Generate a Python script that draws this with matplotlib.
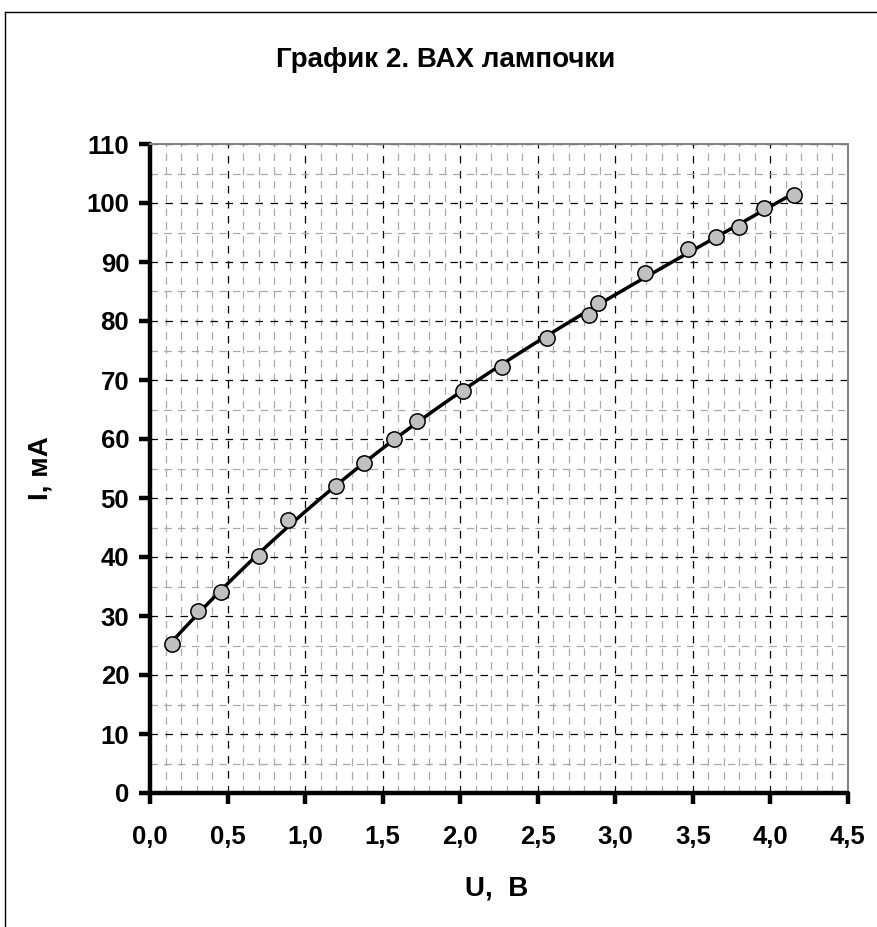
import numpy as np
import matplotlib
matplotlib.use("Agg")
import matplotlib.pyplot as plt
from matplotlib.lines import Line2D
from matplotlib.ticker import MultipleLocator, FuncFormatter

U = [0.14, 0.31, 0.46, 0.70, 0.89, 1.20, 1.38, 1.57, 1.72, 2.02,
     2.27, 2.56, 2.83, 2.89, 3.19, 3.47, 3.65, 3.80, 3.96, 4.15]
I = [25.3, 30.9, 34.0, 40.1, 46.2, 52.0, 55.9, 60.0, 63.0, 68.1,
     72.2, 77.1, 81.0, 83.1, 88.2, 92.2, 94.2, 96.0, 99.1, 101.3]

title = "График 2. ВАХ лампочки"
xlabel = "U,  В"
ylabel = "I, мА"

plt.rcParams['font.family'] = ['Liberation Sans', 'DejaVu Sans']
plt.rcParams['font.weight'] = 'bold'

fig = plt.figure(figsize=(8.77, 9.27), dpi=100)
ax = fig.add_axes([150/877, 1-793/927, (848-150)/877, (793-144)/927])

ax.set_xlim(0, 4.5)
ax.set_ylim(0, 110)
ax.xaxis.set_major_locator(MultipleLocator(0.5))
ax.xaxis.set_minor_locator(MultipleLocator(0.1))
ax.yaxis.set_major_locator(MultipleLocator(10))
ax.yaxis.set_minor_locator(MultipleLocator(5))
ax.xaxis.set_major_formatter(FuncFormatter(lambda v, p: f"{v:.1f}".replace('.', ',')))
ax.yaxis.set_major_formatter(FuncFormatter(lambda v, p: f"{v:.0f}"))

ax.grid(which='major', color='black', linestyle=(0, (6, 6)), linewidth=0.9)
ax.grid(which='minor', color='#a8a8a8', linestyle=(0, (6, 5)), linewidth=0.9)
ax.set_axisbelow(True)

# trendline through data
coef = np.polyfit(U, I, 3)
xs = np.linspace(min(U), max(U), 200)
ax.plot(xs, np.polyval(coef, xs), color='black', linewidth=2.5, zorder=3, solid_capstyle='round')
ax.plot(U, I, linestyle='none', marker='o', markersize=11, markerfacecolor='#c0c0c0',
        markeredgecolor='black', markeredgewidth=1.1, zorder=4)

for s in ['left', 'bottom']:
    ax.spines[s].set_linewidth(3.2)
    ax.spines[s].set_color('black')
    ax.spines[s].set_capstyle('round')
for s in ['top', 'right']:
    ax.spines[s].set_linewidth(1.4)
    ax.spines[s].set_color('#808080')

ax.tick_params(which='major', direction='out', length=8, width=3.2, color='black',
               labelsize=18.5)
ax.tick_params(which='minor', length=0)
ax.tick_params(axis='x', pad=15)
ax.tick_params(axis='y', pad=7)
for lab in ax.get_xticklabels() + ax.get_yticklabels():
    lab.set_fontweight('bold')

fig.text(446/877, 1-60/927, title, ha='center', va='center', fontsize=20, fontweight='bold')
fig.text(497/877, 1-889/927, xlabel, ha='center', va='center', fontsize=20, fontweight='bold')
fig.text(40/877, 1-468/927, ylabel, ha='center', va='center', fontsize=20, fontweight='bold',
         rotation=90)

# outer frame lines
fig.add_artist(Line2D([5/877, 5/877], [0, 1-12/927], color='black', linewidth=1.0,
                      transform=fig.transFigure))
fig.add_artist(Line2D([5/877, 1], [1-12/927, 1-12/927], color='black', linewidth=1.0,
                      transform=fig.transFigure))

fig.savefig("out.png", dpi=100)
